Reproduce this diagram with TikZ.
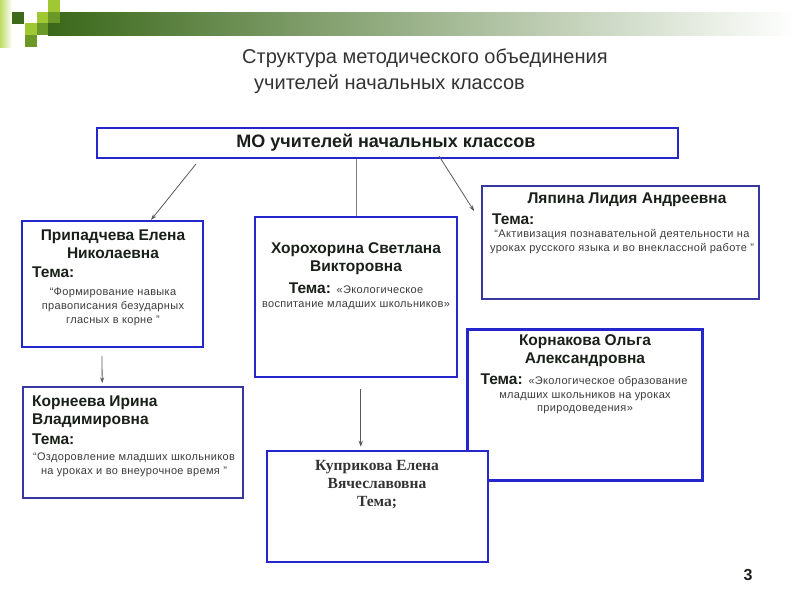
\documentclass[tikz,border=0pt]{standalone}
\usepackage{fontspec}
\setmainfont{Liberation Sans}
\newfontfamily\smallfont[LetterSpace=3]{Liberation Sans}
\newfontfamily\kuprfont{Liberation Serif}
\usetikzlibrary{arrows.meta,calc}
\definecolor{boxblue}{RGB}{38,38,205}
\definecolor{boxnavy}{RGB}{55,55,160}
\definecolor{txtdark}{RGB}{25,32,25}
\definecolor{txtgray}{RGB}{60,60,60}
\definecolor{bargreen}{RGB}{58,104,26}
\definecolor{sqdark}{RGB}{62,105,25}
\definecolor{sqlime}{RGB}{160,200,50}
\definecolor{sqmid}{RGB}{108,152,40}
\definecolor{sqpale}{RGB}{190,220,100}
\newcommand\tp[1]{{\smallfont\mdseries\fontsize{11}{14}\selectfont\color{txtgray}#1}}
\tikzset{
  box/.style={rectangle,draw=boxblue,line width=2pt,fill=white,inner sep=0pt},
  navybox/.style={box,draw=boxnavy,line width=1.6pt},
  thickbox/.style={box,line width=3pt},
  title/.style={font=\fontsize{20}{26}\selectfont,text=black!80,inner sep=0pt},
  motext/.style={font=\fontsize{18}{20}\selectfont\bfseries,text=txtdark,inner sep=0pt},
  pname/.style={font=\fontsize{15.5}{18}\selectfont\bfseries,text=txtdark,align=center,inner sep=0pt},
  tema/.style={font=\fontsize{15.5}{18}\selectfont\bfseries,text=txtdark,inner sep=0pt},
  topic/.style={font=\smallfont\fontsize{11}{14}\selectfont,text=txtgray,align=center,inner sep=0pt},
  kname/.style={font=\kuprfont\fontsize{15.5}{18}\selectfont\bfseries,text=black!80,align=center,inner sep=0pt},
  de/.style={-{Stealth[length=6pt,width=4pt]},draw=black!65,line width=0.8pt},
  ue/.style={draw=black!50,line width=0.8pt}
}
\begin{document}
\begin{tikzpicture}[x=1pt,y=-1pt]
\useasboundingbox (0,0) rectangle (800,600);
% slide header
\shade[left color=sqpale,right color=white] (0,0) rectangle (12,47);
\shade[left color=bargreen,right color=white] (48,12) rectangle (795,35);
\fill[sqdark] (12,12) rectangle (24,24);
\fill[sqlime] (37,12) rectangle (48,23);
\fill[sqlime] (48,0) rectangle (60,12);
\fill[sqmid] (48,12) rectangle (60,23);
\fill[sqlime] (25,23) rectangle (37,35);
\fill[sqmid] (37,23) rectangle (48,35);
\fill[sqmid] (25,35) rectangle (37,47);
\node[title,anchor=west] (title1) at (242,58) {Структура методического объединения};
\node[title,anchor=west] (title2) at (254,84) {учителей начальных классов};

\node[box,minimum width=581pt,minimum height=30pt] (mo) at (387.5,143) {};
\node[motext] (mo-text) at (386,143) {МО учителей начальных классов};

\node[box,minimum width=181pt,minimum height=126pt] (prip) at (112.5,284) {};
\node[box,line width=2.5pt,minimum width=202pt,minimum height=160pt] (khor) at (356,297) {};
\node[navybox,minimum width=277pt,minimum height=113pt] (lyap) at (620.5,242.5) {};
\node[thickbox,minimum width=235pt,minimum height=151pt] (korn) at (584.5,404.5) {};
\node[navybox,minimum width=220pt,minimum height=111pt] (kornv) at (133,442.5) {};
\node[box,line width=2.5pt,minimum width=221pt,minimum height=111pt] (kupr) at (377.5,506.5) {};

\node[pname] (prip-name) at (113,244) {Припадчева Елена\\Николаевна};
\node[tema,anchor=west] (prip-tema) at (32,272) {Тема:};
\node[topic] (prip-topic) at (113,307) {“Формирование навыка\\правописания безударных\\гласных в корне ”};

\node[pname] (khor-name) at (356,259) {Хорохорина Светлана\\Викторовна};
\node[tema] (khor-tema) at (356,288) {Тема: \tp{«Экологическое}};
\node[topic] (khor-topic) at (356,306) {воспитание младших школьников»};

\node[pname] (lyap-name) at (627,200) {Ляпина Лидия Андреевна};
\node[tema,anchor=west] (lyap-tema) at (492,219) {Тема:};
\node[topic] (lyap-topic) at (622,242) {“Активизация познавательной деятельности на\\уроках русского языка и во внеклассной работе ”};

\node[pname] (korn-name) at (585,351) {Корнакова Ольга\\Александровна};
\node[tema] (korn-tema) at (584,380) {Тема: \tp{«Экологическое образование}};
\node[topic,font=\smallfont\fontsize{11}{12.5}\selectfont] (korn-topic) at (585,403) {младших школьников на уроках\\природоведения»};

\node[pname,align=left,anchor=west] (kornv-name) at (32,412) {Корнеева Ирина\\Владимировна};
\node[tema,anchor=west] (kornv-tema) at (32,439) {Тема:};
\node[topic] (kornv-topic) at (134,465) {“Оздоровление младших школьников\\на уроках и во внеурочное время ”};

\node[kname] (kupr-name) at (377,485) {Куприкова Елена\\Вячеславовна\\Тема;};

\draw[de] ($(mo.south west)+(100,5)$) -- ($(prip.north west)+(130,0)$);
\draw[ue] (mo.south -| khor.north) -- (khor.north);
\draw[de] ($(mo.south west)+(343,-3)$) -- ($(lyap.north west)+(-7,26)$);
\draw[de] ($(prip.south west)+(81,8)$) -- ($(kornv.north west)+(80,-3)$);
\draw[de] ($(khor.south west)+(107,11)$) -- ($(kupr.north west)+(95,-3)$);

\node[font=\fontsize{16}{18}\selectfont\bfseries,text=txtdark] (pnum) at (748,575) {3};
\end{tikzpicture}
\end{document}
